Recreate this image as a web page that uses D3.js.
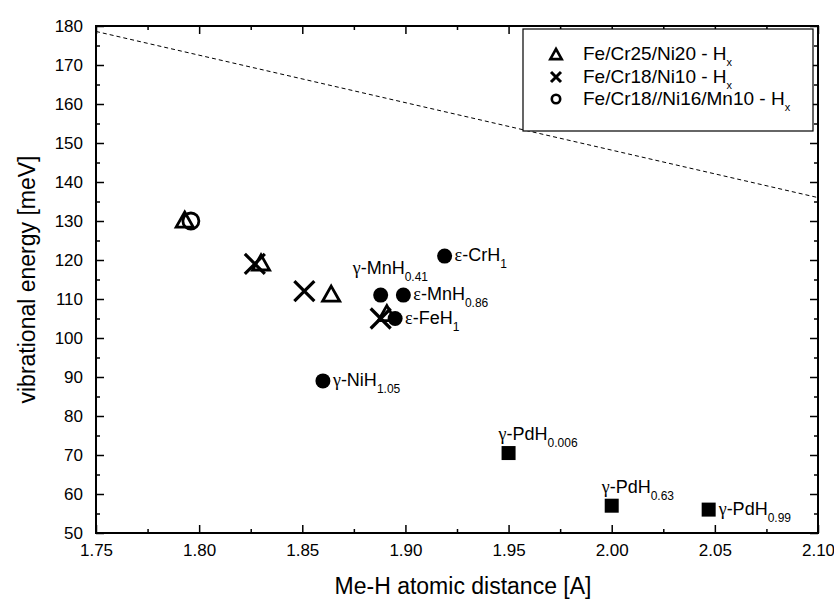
<!DOCTYPE html>
<html>
<head>
<meta charset="utf-8">
<script src="https://cdn.jsdelivr.net/npm/d3@7"></script>
<style>
  body { margin: 0; background: #fff; }
  text { font-family: "Liberation Sans", Arial, sans-serif; fill: #000; }
  .greek { font-family: "Liberation Serif", "Times New Roman", serif; }
</style>
</head>
<body>
<svg id="chart" width="834" height="604"></svg>
<script>
// data
const triangles = [[1.793, 130], [1.830, 119], [1.864, 111], [1.891, 106]];
const crosses = [[1.827, 119], [1.851, 112], [1.888, 105]];
const openCircles = [[1.796, 130]];
const hydrideX = [1.919, 1.888, 1.899, 1.895, 1.860];
const hydrideY = [121, 111, 111, 105, 89];
const hydrideName = ['ε-CrH', 'γ-MnH', 'ε-MnH', 'ε-FeH', 'γ-NiH'];
const hydrideSub = ['1', '0.41', '0.86', '1', '1.05'];
const hydrideLabelAt = ['right', 'aboveLeft', 'right', 'right', 'right'];
const pdX = [1.950, 2.000, 2.047];
const pdY = [70.5, 57, 56];
const pdName = ['γ-PdH', 'γ-PdH', 'γ-PdH'];
const pdSub = ['0.006', '0.63', '0.99'];
const pdLabelAt = ['above', 'above', 'right'];
const limitLine = [[1.75, 178.6], [2.10, 136]];
const legendNames = ['Fe/Cr25/Ni20 - H', 'Fe/Cr18/Ni10 - H', 'Fe/Cr18//Ni16/Mn10 - H'];
const xTicks = [1.75, 1.80, 1.85, 1.90, 1.95, 2.00, 2.05, 2.10];
const yTicks = d3.range(50, 181, 10);

const svg = d3.select('#chart');
const plotL = 96, plotR = 818, plotT = 26, plotB = 533;
const x = d3.scaleLinear().domain([1.75, 2.10]).range([plotL, plotR]);
const y = d3.scaleLinear().domain([50, 180]).range([plotB, plotT]);

// axes, ticks pointing inwards on all four sides
const xMinor = d3.range(1.775, 2.10, 0.05);
const yMinor = d3.range(55, 180, 10);

function ticks(axis, pos) {
    const g = svg.append('g').attr('transform', pos).call(axis);
    g.select('.domain').remove();
    g.selectAll('line').attr('stroke', '#000').attr('stroke-width', 1.5);
    g.selectAll('text').attr('font-size', 17).attr('fill', '#000')
        .attr('font-family', '"Liberation Sans", Arial, sans-serif');
    return g;
}
ticks(d3.axisBottom(x).tickValues(xTicks).tickSize(-8).tickPadding(11).tickFormat(d3.format('.2f')),
    `translate(0,${plotB})`);
ticks(d3.axisBottom(x).tickValues(xMinor).tickSize(-4).tickFormat(''), `translate(0,${plotB})`);
ticks(d3.axisTop(x).tickValues(xTicks).tickSize(-8).tickFormat(''), `translate(0,${plotT})`);
ticks(d3.axisTop(x).tickValues(xMinor).tickSize(-4).tickFormat(''), `translate(0,${plotT})`);
ticks(d3.axisLeft(y).tickValues(yTicks).tickSize(-8).tickPadding(13).tickFormat(d3.format('d')),
    `translate(${plotL},0)`);
ticks(d3.axisLeft(y).tickValues(yMinor).tickSize(-4).tickFormat(''), `translate(${plotL},0)`);
ticks(d3.axisRight(y).tickValues(yTicks).tickSize(-8).tickFormat(''), `translate(${plotR},0)`);
ticks(d3.axisRight(y).tickValues(yMinor).tickSize(-4).tickFormat(''), `translate(${plotR},0)`);

svg.append('rect')
    .attr('x', plotL).attr('y', plotT)
    .attr('width', plotR - plotL).attr('height', plotB - plotT)
    .attr('fill', 'none').attr('stroke', '#000').attr('stroke-width', 2);

// axis titles
svg.append('text')
    .attr('x', (plotL + plotR) / 2 + 6).attr('y', 594)
    .attr('text-anchor', 'middle').attr('font-size', 23)
    .text('Me-H atomic distance [A]');
svg.append('text')
    .attr('transform', `translate(35,${(plotT + plotB) / 2}) rotate(-90)`)
    .attr('text-anchor', 'middle').attr('font-size', 23)
    .text('vibrational energy [meV]');

// dashed limit line
svg.append('path')
    .datum(limitLine)
    .attr('d', d3.line().x(d => x(d[0])).y(d => y(d[1])))
    .attr('fill', 'none').attr('stroke', '#000')
    .attr('stroke-width', 1).attr('stroke-dasharray', '4,3');

// marker helpers
function triangle(g, cx, cy, s, w) {
    g.append('path')
        .attr('d', `M${cx},${cy - s}L${cx + s * 0.95},${cy + s * 0.68}L${cx - s * 0.95},${cy + s * 0.68}Z`)
        .attr('fill', 'none').attr('stroke', '#000').attr('stroke-width', w);
}
function cross(g, cx, cy, s, w) {
    g.append('path')
        .attr('d', `M${cx - s},${cy - s}L${cx + s},${cy + s}M${cx - s},${cy + s}L${cx + s},${cy - s}`)
        .attr('stroke', '#000').attr('stroke-width', w);
}
function ring(g, cx, cy, r, w) {
    g.append('circle').attr('cx', cx).attr('cy', cy).attr('r', r)
        .attr('fill', 'none').attr('stroke', '#000').attr('stroke-width', w);
}

const marks = svg.append('g');
openCircles.forEach(d => ring(marks, x(d[0]), y(d[1]), 8, 2.8));
triangles.forEach(d => triangle(marks, x(d[0]), y(d[1]), 9, 2.8));
crosses.forEach(d => cross(marks, x(d[0]), y(d[1]), 10, 3.2));

marks.selectAll('.hydride')
    .data(hydrideX)
    .enter().append('circle')
    .attr('class', 'hydride')
    .attr('cx', d => x(d))
    .attr('cy', (d, i) => y(hydrideY[i]))
    .attr('r', 7.5)
    .attr('fill', '#000');

marks.selectAll('.pd')
    .data(pdX)
    .enter().append('rect')
    .attr('class', 'pd')
    .attr('x', d => x(d) - 7)
    .attr('y', (d, i) => y(pdY[i]) - 7)
    .attr('width', 14).attr('height', 14)
    .attr('fill', '#000');

// point labels: Greek letter in serif, rest sans, subscript index
const offsets = {
    right: [10, 5],
    above: [-10, -13],
    aboveLeft: [-28, -21]
};
function label(px, py, name, sub, at) {
    const o = offsets[at];
    const t = svg.append('text')
        .attr('x', px + o[0]).attr('y', py + o[1])
        .attr('font-size', 18);
    t.append('tspan').attr('class', 'greek').text(name.charAt(0));
    t.append('tspan').text(name.slice(1));
    t.append('tspan').attr('font-size', 12).attr('dy', 7).text(sub);
}
hydrideX.forEach((d, i) => label(x(d), y(hydrideY[i]), hydrideName[i], hydrideSub[i], hydrideLabelAt[i]));
pdX.forEach((d, i) => label(x(d), y(pdY[i]), pdName[i], pdSub[i], pdLabelAt[i]));

// legend
const lg = svg.append('g');
lg.append('rect')
    .attr('x', 523).attr('y', 29).attr('width', 290).attr('height', 102)
    .attr('fill', '#fff').attr('stroke', '#000').attr('stroke-width', 1.2);
const rowY = [54, 77, 99];
triangle(lg, 556, rowY[0] + 1, 6, 2.6);
cross(lg, 556, rowY[1], 5, 3);
ring(lg, 556, rowY[2], 4.2, 2.6);
legendNames.forEach((n, i) => {
    const t = lg.append('text')
        .attr('x', 583).attr('y', rowY[i] + 6)
        .attr('font-size', 19);
    t.append('tspan').text(n);
    t.append('tspan').attr('font-size', 11).attr('dy', 6).text('x');
});
</script>
</body>
</html>
